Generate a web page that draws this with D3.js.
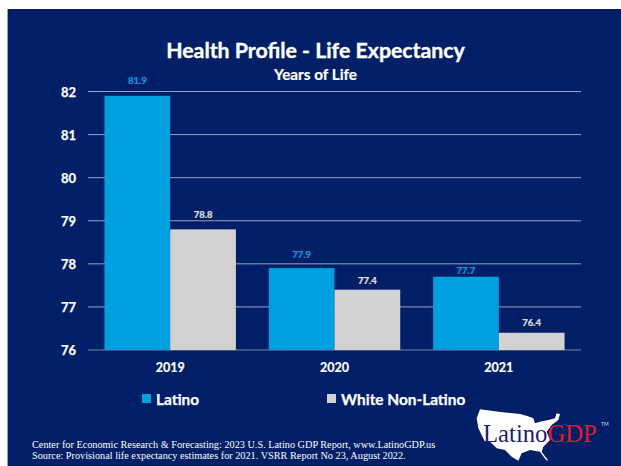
<!DOCTYPE html>
<html><head><meta charset="utf-8">
<script src="https://cdnjs.cloudflare.com/ajax/libs/d3/7.8.5/d3.min.js"></script>
<style>html,body{margin:0;padding:0;background:#fff}svg{display:block}text{font-family:Lato,sans-serif;font-weight:700}</style>
</head><body><svg id="c" width="621" height="466"></svg>
<script>
const categories = ["2019","2020","2021"];
const seriesNames = ["Latino","White Non-Latino"];
const latino = [81.9,77.9,77.7];
const whiteNonLatino = [78.8,77.4,76.4];
const yTicks = [76,77,78,79,80,81,82];
const titleText = "Health Profile - Life Expectancy";
const subtitleText = "Years of Life";
const footerLines = ["Center for Economic Research & Forecasting: 2023 U.S. Latino GDP Report, www.LatinoGDP.us","Source: Provisional life expectancy estimates for 2021. VSRR Report No 23, August 2022."];
const colors = ["#009FE0","#D2D2D2"];
const labelGap = [[11.5,10,2.5],[11.5,6,6.5]];
const svg = d3.select("#c");
svg.append("rect").attr("x",7).attr("y",9).attr("width",614).attr("height",457).attr("fill","#001F66");
svg.append("rect").attr("x",7).attr("y",9).attr("width",1).attr("height",457).attr("fill","#9aa3bd");
const x = d3.scaleBand().domain(categories).range([88,581]).paddingInner(0.2).paddingOuter(0.1);
const x1 = d3.scaleBand().domain([0,1]).range([0,x.bandwidth()]);
const y = d3.scaleLinear().domain([76,82]).range([350,91.5]);
svg.append("g").selectAll("line").data(yTicks).join("line")
 .attr("x1",88).attr("x2",581).attr("y1",d=>y(d)).attr("y2",d=>y(d))
 .attr("stroke",d=>d===76?"#7c84a8":"#A09DC8").attr("stroke-width",1);
svg.append("g").selectAll("text").data(yTicks).join("text")
 .attr("x",76).attr("y",d=>y(d)+5).attr("text-anchor","end").attr("fill","#fff").attr("stroke","#fff").attr("stroke-width",0.25).attr("font-size",13).text(d=>d);
[latino,whiteNonLatino].forEach((vals,s)=>{
 const g=svg.append("g");
 g.selectAll("rect").data(vals).join("rect")
  .attr("x",(d,i)=>x(categories[i])+x1(s)).attr("width",x1.bandwidth())
  .attr("y",d=>y(d)).attr("height",d=>y(76)-y(d)).attr("fill",colors[s]);
 const lc=s===0?"#009FE0":"#E2E2E2";
 g.selectAll("text").data(vals).join("text")
  .attr("x",(d,i)=>x(categories[i])+x1(s)+x1.bandwidth()/2).attr("y",(d,i)=>y(d)-labelGap[s][i])
  .attr("text-anchor","middle").attr("font-size",9.5).attr("fill",lc).attr("stroke",lc).attr("stroke-width",0.2).text(d=>d.toFixed(1));
});
svg.append("g").selectAll("text").data(categories).join("text")
 .attr("x",d=>x(d)+x.bandwidth()/2).attr("y",371.7).attr("text-anchor","middle").attr("fill","#fff").attr("stroke","#fff").attr("stroke-width",0.2).attr("font-size",12.5).text(d=>d);
svg.append("text").attr("x",315.5).attr("y",58).attr("text-anchor","middle").attr("fill","#fff").attr("stroke","#fff").attr("stroke-width",0.35).attr("font-size",21.3).text(titleText);
svg.append("text").attr("x",315.5).attr("y",80).attr("text-anchor","middle").attr("fill","#fff").attr("stroke","#fff").attr("stroke-width",0.2).attr("font-size",15.3).text(subtitleText);
const legX=[142,327];
seriesNames.forEach((n,i)=>{
 svg.append("rect").attr("x",legX[i]).attr("y",394).attr("width",9).attr("height",9).attr("fill",colors[i]);
 svg.append("text").attr("x",legX[i]+14).attr("y",405).attr("fill","#fff").attr("stroke","#fff").attr("stroke-width",0.25).attr("font-size",15.4).text(n);
});
svg.append("g").selectAll("text").data(footerLines).join("text")
 .attr("x",32).attr("y",(d,i)=>447.5+i*11).attr("fill","#fff").attr("font-size",10.25)
 .style("font-family","'Liberation Serif',serif").style("font-weight",400).text(d=>d);
// logo: US silhouette traced in the 3x zoom of the logo, offset to page
const map=[[120,58],[175,65],[240,72],[262,78],[280,85],[285,100],[300,95],[325,90],[345,85],[350,70],[360,72],[355,90],[335,105],[320,125],[330,150],[310,170],[305,185],[325,212],[318,210],[300,185],[270,180],[245,190],[235,212],[215,200],[195,180],[170,175],[150,155],[135,155],[115,115],[110,85]]
 .map(p=>[440+p[0]/3,390+p[1]/3]);
svg.append("path").attr("d",d3.line().curve(d3.curveLinearClosed)(map)).attr("fill","#fff");
const lg=svg.append("text").attr("x",483).attr("y",442).attr("font-size",24.7).style("font-family","'Liberation Serif',serif").style("font-weight",400);
lg.append("tspan").attr("fill","#1A1F6B").text("Latino");
lg.append("tspan").attr("fill","#E01B2E").text("GDP");
svg.append("text").attr("x",601).attr("y",426).attr("fill","#ddd").attr("font-size",5).style("font-weight",400).text("TM");
</script></body></html>
